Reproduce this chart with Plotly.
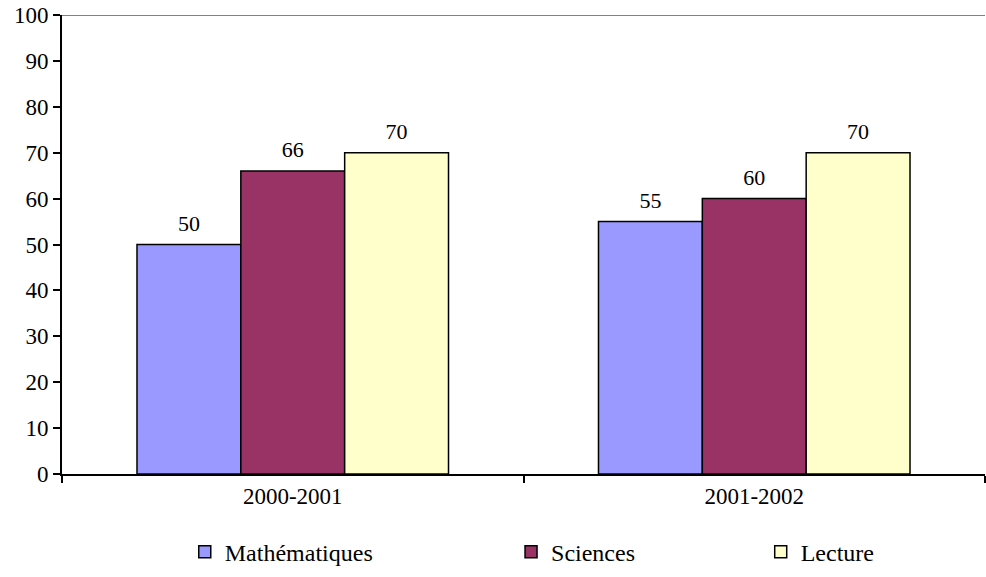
'''
grouped bar chart: scores par matière et année scolaire
'''
import plotly.graph_objects as go

years = ['2000-2001', '2001-2002']
subjects = ['Mathématiques', 'Sciences', 'Lecture']
maths = [50, 55]
sciences = [66, 60]
lecture = [70, 70]
y_ticks = list(range(0, 101, 10))

colours = ['#9999FF', '#993366', '#FFFFCC']
legend_names = ['legend', 'legend2', 'legend3']
legend_x = [0.133, 0.4865, 0.757]
serif = 'Liberation Serif'
gap = 0.325

figure = go.Figure()
for name, values, colour, leg in zip(subjects, [maths, sciences, lecture], colours, legend_names):
    figure.add_trace(go.Bar(
        x=years, y=values, name=name, legend=leg, offsetgroup=name,
        marker=dict(color=colour, line=dict(color='black', width=1.5)),
    ))
    #value labels, grouped like the bars so they sit above them
    figure.add_trace(go.Scatter(
        x=years, y=values, mode='markers+text', offsetgroup=name,
        marker=dict(size=12, opacity=0), text=values, textposition='top center',
        textfont=dict(family=serif, size=22, color='black'),
        showlegend=False, hoverinfo='skip', cliponaxis=False,
    ))

legend_style = dict(orientation='h', yanchor='middle', y=-0.17, xanchor='left',
                    font=dict(family=serif, size=24, color='black'), bgcolor='rgba(0,0,0,0)')
layout_legends = {}
for leg, lx in zip(legend_names, legend_x):
    layout_legends[leg] = dict(legend_style, x=lx)

figure.update_layout(
    width=986, height=577,
    margin=dict(l=62, r=1, t=15, b=103, autoexpand=False),
    paper_bgcolor='white', plot_bgcolor='white',
    font=dict(family=serif, size=23, color='black'),
    barmode='group', bargap=gap, bargroupgap=0,
    scattermode='group', scattergap=gap,
    showlegend=True,
    **layout_legends,
)
figure.update_yaxes(
    range=[0, 100], tickvals=y_ticks, showgrid=False, zeroline=False, automargin=False,
    showline=True, linecolor='black', linewidth=2, ticklabeloverflow='allow',
    ticks='outside', ticklen=7, tickwidth=2, tickcolor='black',
    tickfont=dict(family=serif, size=23, color='black'),
)
figure.update_xaxes(
    showgrid=False, showline=True, linecolor='black', linewidth=2, automargin=False,
    ticks='outside', tickson='boundaries', ticklen=7, tickwidth=2, tickcolor='black',
    tickfont=dict(family=serif, size=23, color='black'),
)
# grey line on top of plot area (level 100)
figure.add_shape(type='line', xref='paper', yref='y', x0=0, x1=1, y0=100, y1=100,
                 line=dict(color='#808080', width=2))

# the page body has a default 8px margin; drop it so the figure fills the window
figure.write_html('out.html', config={'displayModeBar': False},
                  post_script='document.body.style.margin = "0";')
